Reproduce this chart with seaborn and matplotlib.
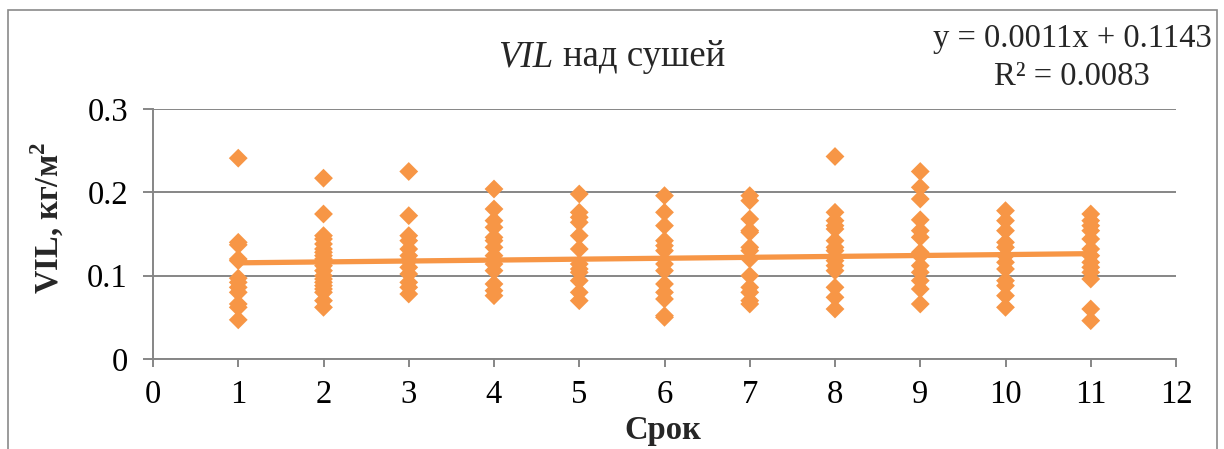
import matplotlib
matplotlib.use("Agg")
import matplotlib.pyplot as plt
from matplotlib.patches import Rectangle
import numpy as np
import pandas as pd
import seaborn as sns

# VIL values (kg/m^2) over land for each observation period ("Срок")
vil_1 = [0.241, 0.140, 0.137, 0.120, 0.118, 0.097, 0.092, 0.086, 0.080, 0.066, 0.062, 0.047]
vil_2 = [0.217, 0.174, 0.148, 0.144, 0.138, 0.132, 0.128, 0.124, 0.120, 0.116, 0.112,
         0.106, 0.100, 0.096, 0.092, 0.088, 0.084, 0.080, 0.070, 0.062]
vil_3 = [0.225, 0.172, 0.148, 0.142, 0.132, 0.124, 0.118, 0.110, 0.102, 0.092, 0.086, 0.078]
vil_4 = [0.204, 0.180, 0.166, 0.158, 0.146, 0.142, 0.134, 0.124, 0.114, 0.106, 0.090, 0.082, 0.076]
vil_5 = [0.198, 0.176, 0.170, 0.164, 0.148, 0.132, 0.114, 0.108, 0.104, 0.094, 0.080, 0.070]
vil_6 = [0.196, 0.176, 0.160, 0.142, 0.136, 0.130, 0.114, 0.106, 0.090, 0.080, 0.072, 0.052, 0.050]
vil_7 = [0.196, 0.190, 0.168, 0.154, 0.152, 0.134, 0.130, 0.120, 0.100, 0.086, 0.080, 0.070, 0.066]
vil_8 = [0.243, 0.176, 0.166, 0.160, 0.156, 0.142, 0.134, 0.130, 0.118, 0.112, 0.106, 0.086, 0.074, 0.060]
vil_9 = [0.225, 0.206, 0.192, 0.167, 0.154, 0.146, 0.128, 0.124, 0.112, 0.104, 0.094, 0.084, 0.066]
vil_10 = [0.178, 0.166, 0.154, 0.140, 0.134, 0.124, 0.116, 0.108, 0.094, 0.088, 0.076, 0.062]
vil_11 = [0.174, 0.166, 0.160, 0.154, 0.144, 0.132, 0.124, 0.116, 0.110, 0.104, 0.096, 0.060, 0.046]
vil_by_period = [vil_1, vil_2, vil_3, vil_4, vil_5, vil_6, vil_7, vil_8, vil_9, vil_10, vil_11]
periods = list(range(1, 12))

# linear trend as reported on the chart
trend_slope = 0.0011
trend_intercept = 0.1143
trend_r2 = 0.0083

x_ticks = list(range(0, 13))
y_ticks = [0, 0.1, 0.2, 0.3]
y_tick_labels = ["0", "0.1", "0.2", "0.3"]

points = pd.DataFrame({
    "period": np.concatenate([[p] * len(v) for p, v in zip(periods, vil_by_period)]),
    "vil": np.concatenate(vil_by_period),
})
trend = pd.DataFrame({"period": [periods[0], periods[-1]]})
trend["vil"] = trend_slope * trend["period"] + trend_intercept

sns.set_theme(style="white")
plt.rcParams["font.family"] = ["Liberation Serif", "DejaVu Serif"]
plt.rcParams["mathtext.fontset"] = "custom"
plt.rcParams["mathtext.rm"] = "Liberation Serif"
plt.rcParams["mathtext.bf"] = "Liberation Serif:bold"

orange = "#F79646"
grey = "#868686"
fs = 23.5

fig = plt.figure(figsize=(12.24, 4.49), dpi=100)
ax = fig.add_axes([153 / 1224, 1 - 359 / 449, (1176 - 153) / 1224, (359 - 109) / 449])

sns.scatterplot(data=points, x="period", y="vil", marker="D", s=92, color=orange,
                edgecolor="none", linewidth=0, ax=ax, zorder=3)
sns.lineplot(data=trend, x="period", y="vil", color=orange, linewidth=3.8, ax=ax, zorder=2)

ax.set_xlim(0, 12)
ax.set_ylim(0, 0.3)
ax.set_xticks(x_ticks)
ax.set_yticks(y_ticks)
ax.set_xticklabels([str(t) for t in x_ticks])
ax.set_yticklabels(y_tick_labels)
ax.yaxis.grid(True, color=grey, linewidth=1.4)
ax.xaxis.grid(False)
ax.set_axisbelow(True)

for side in ("top", "right"):
    ax.spines[side].set_visible(False)
for side in ("left", "bottom"):
    ax.spines[side].set_color(grey)
    ax.spines[side].set_linewidth(1.4)

ax.tick_params(axis="y", direction="out", length=7, width=1.4, color=grey,
               labelsize=fs, pad=11, left=True)
ax.tick_params(axis="x", direction="out", length=6, width=1.4, color=grey,
               labelsize=fs, pad=9, bottom=True)
for lab in ax.get_xticklabels() + ax.get_yticklabels():
    lab.set_color("black")

ax.set_xlabel("Срок", fontsize=fs, fontweight="bold")
ax.xaxis.label.set_va("center")
ax.xaxis.set_label_coords((663 - 153) / (1176 - 153), -(431 - 359) / (359 - 109))
ax.set_ylabel(r"VIL, кг/м$^\mathbf{2}$", fontsize=fs, fontweight="bold")
ax.yaxis.label.set_va("center")
ax.yaxis.set_label_coords(-(153 - 47) / (1176 - 153), (359 - 218) / (359 - 109))

# title: italic "VIL" followed by upright text
fig.text(553 / 1224, 1 - 57 / 449, "VIL", fontsize=26.5, style="italic",
         ha="right", va="center")
fig.text(563 / 1224, 1 - 57 / 449, "над сушей", fontsize=26.5, ha="left", va="center")

# trend equation
fig.text(1072 / 1224, 1 - 58 / 449,
         f"y = {trend_slope:.4f}x + {trend_intercept:.4f}\nR² = {trend_r2:.4f}",
         fontsize=fs, ha="center", va="center", linespacing=1.3)

# chart frame
fig.patches.append(Rectangle((8 / 1224, -0.1), (1217 - 8) / 1224, 1.1 - 10 / 449,
                             transform=fig.transFigure, fill=False,
                             edgecolor="#8a8a8a", linewidth=1.2))

fig.savefig("out.png", dpi=100)
